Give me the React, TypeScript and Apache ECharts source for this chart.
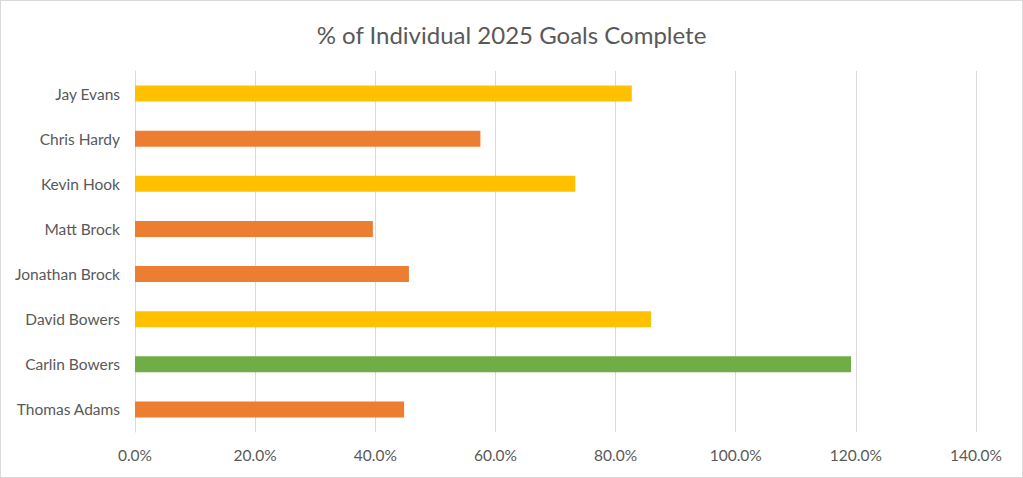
import React, { useEffect, useRef } from "react";
import * as echarts from "echarts";

const categories = [
  "Thomas Adams",
  "Carlin Bowers",
  "David Bowers",
  "Jonathan Brock",
  "Matt Brock",
  "Kevin Hook",
  "Chris Hardy",
  "Jay Evans",
];
const percentComplete = [44.8, 119.2, 85.9, 45.6, 39.6, 73.3, 57.5, 82.7];
const xTicks = [0, 20, 40, 60, 80, 100, 120, 140];

const colorFor = (v: number) => (v >= 100 ? "#70AD47" : v >= 60 ? "#FFC000" : "#ED7D31");

export default function App() {
  const ref = useRef<HTMLDivElement>(null);
  useEffect(() => {
    if (!ref.current) return;
    const chart = echarts.init(ref.current, null, { renderer: "svg" });
    chart.setOption({
      animation: false,
      backgroundColor: "#ffffff",
      title: {
        text: "% of Individual 2025 Goals Complete",
        left: "center",
        top: 16,
        textStyle: {
          fontFamily: "Lato, 'Open Sans', sans-serif",
          fontSize: 24,
          fontWeight: "normal",
          color: "#595959",
        },
      },
      grid: { left: 134, right: 46, top: 70, bottom: 45, containLabel: false },
      xAxis: {
        type: "value",
        min: xTicks[0],
        max: xTicks[xTicks.length - 1],
        interval: 20,
        axisLine: { show: false },
        axisTick: { show: false },
        splitLine: { lineStyle: { color: "#D9D9D9", width: 1 } },
        axisLabel: {
          formatter: (v: number) => v.toFixed(1) + "%",
          color: "#595959",
          fontSize: 15.5,
          fontFamily: "Lato, 'Open Sans', sans-serif",
          margin: 15,
        },
      },
      yAxis: {
        type: "category",
        data: categories,
        axisLine: { show: true, lineStyle: { color: "#D9D9D9" } },
        axisTick: { show: false },
        axisLabel: {
          color: "#595959",
          fontSize: 15.5,
          fontFamily: "Lato, 'Open Sans', sans-serif",
          margin: 15,
          padding: [0, 0, 2, 0],
        },
      },
      series: [
        {
          type: "bar",
          barWidth: 16,
          data: percentComplete.map((v) => ({ value: v, itemStyle: { color: colorFor(v) } })),
        },
      ],
    });
    return () => chart.dispose();
  }, []);
  return (
    <div
      ref={ref}
      style={{
        position: "fixed",
        left: 0,
        top: 0,
        width: 1023,
        height: 478,
        boxSizing: "border-box",
        border: "1px solid #D9D9D9",
        background: "#fff",
      }}
    />
  );
}
